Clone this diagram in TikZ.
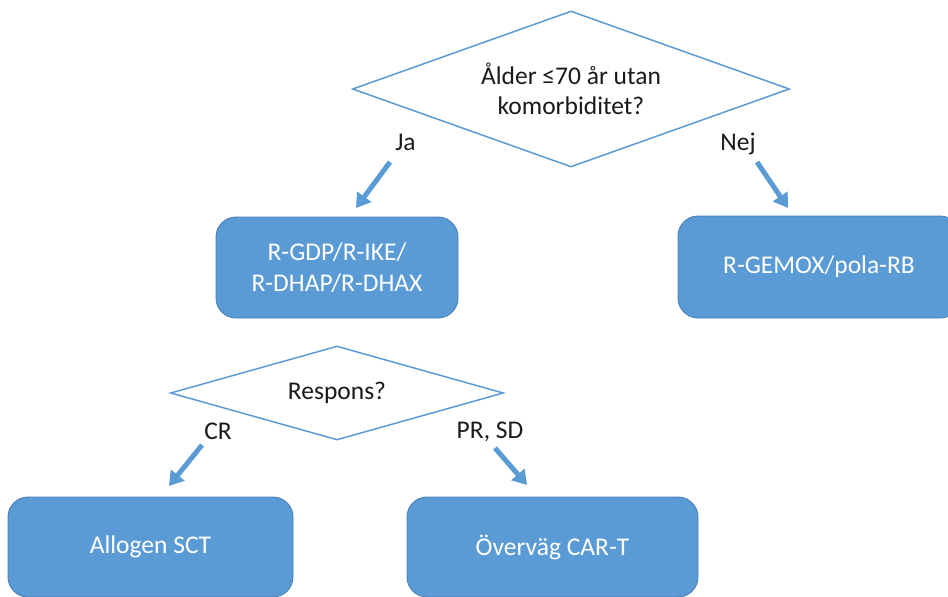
\documentclass[tikz,border=0pt]{standalone}
\usepackage{fontspec}
\setmainfont{Carlito}
\usetikzlibrary{shapes.geometric,arrows.meta}
\definecolor{boxblue}{HTML}{5B9BD5}
\definecolor{boxedge}{HTML}{4A80B5}
\definecolor{ink}{HTML}{1A1A1A}
\newcommand{\flowfont}{\fontsize{25.5}{30.5}\selectfont}
\tikzset{
  decision/.style={shape=diamond, draw=boxblue, line width=1.5pt, aspect=2.8,
    inner sep=0pt, align=center, text=ink, font=\flowfont},
  action/.style={rectangle, rounded corners=20pt, fill=boxblue, draw=boxedge,
    line width=0.9pt, text=white, align=center, font=\flowfont},
  flow/.style={draw=boxblue, line width=5pt,
    -{Triangle[width=17pt,length=14pt]}},
  choice/.style={text=ink, anchor=base, inner sep=0pt, font=\flowfont}
}
\begin{document}
\begin{tikzpicture}[x=1pt,y=-1pt]
  \useasboundingbox (0,0) rectangle (948,597);
  \clip (0,0) rectangle (948,597);

  % first decision and its two branches
  \node[decision, minimum width=437pt, minimum height=156pt] (q1) at (571,89)
    {Ålder ≤70 år utan\\komorbiditet?};
  \node[action, minimum width=242pt, minimum height=101pt] (b1) at (337,267.5)
    {R-GDP/R-IKE/\\R-DHAP/R-DHAX};
  \node[action, minimum width=282pt, minimum height=102pt] (b2) at (819,267)
    {R-GEMOX/pola-RB};

  \node[choice] (lja) at (405.5,150) {Ja};
  \node[choice] (lnej) at (738,150) {Nej};
  \coordinate (jaS) at (390,162);  \coordinate (jaE) at (356,208);
  \coordinate (nejS) at (757,162); \coordinate (nejE) at (788,208);
  \draw[flow] (jaS) -- (jaE);
  \draw[flow] (nejS) -- (nejE);

  % response check after salvage therapy
  \node[decision, minimum width=333pt, minimum height=94pt] (q2) at (337,393)
    {Respons?};
  \node[action, minimum width=285pt, minimum height=100pt] (b3) at (150.5,547)
    {Allogen SCT};
  \node[action, minimum width=291pt, minimum height=100pt] (b4) at (552.5,547)
    {Överväg CAR-T};

  \node[choice] (lcr) at (218,439) {CR};
  \node[choice] (lpr) at (490,438) {PR, SD};
  \coordinate (crS) at (202,445); \coordinate (crE) at (169,486);
  \coordinate (prS) at (495,448); \coordinate (prE) at (527,485);
  \draw[flow] (crS) -- (crE);
  \draw[flow] (prS) -- (prE);
\end{tikzpicture}
\end{document}
